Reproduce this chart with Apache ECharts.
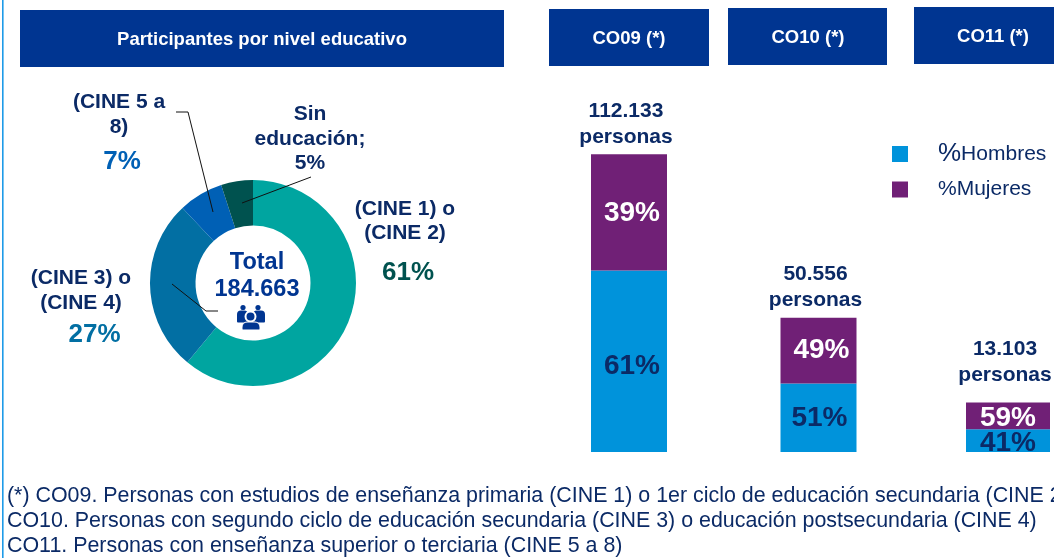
<!DOCTYPE html>
<html>
<head>
<meta charset="utf-8">
<style>html,body{margin:0;padding:0;background:#fff}#chart{width:1054px;height:558px}</style>
<script src="https://cdn.jsdelivr.net/npm/echarts@6/dist/echarts.min.js"></script>
</head>
<body>
<div id="chart"></div>
<script>
// donut: participantes por nivel educativo
var niveles = ['CINE 1-2', 'CINE 3-4', 'CINE 5-8', 'Sin educacion'];
var nivelesPct = [61, 27, 7, 5];
var nivelesColor = ['#00a5a0', '#026fa3', '#0060b5', '#00524f'];

// barras CO09 / CO10 / CO11
var grupos = ['CO09', 'CO10', 'CO11'];
var personas = ['112.133', '50.556', '13.103'];
var pctHombres = [61, 51, 41];
var pctMujeres = [39, 49, 59];
// altura dibujada en personas (CO11 va agrandada en el original)
var alturaHombres = [68400, 25800, 8550];
var alturaMujeres = [43700, 24750, 10050];

var notas = [
    '(*) CO09. Personas con estudios de enseñanza primaria (CINE 1) o 1er ciclo de educación secundaria (CINE 2)',
    'CO10. Personas con segundo ciclo de educación secundaria (CINE 3) o educación postsecundaria (CINE 4)',
    'CO11. Personas con enseñanza superior o terciaria (CINE 5 a 8)'
];

var FONT = '"Liberation Sans", Arial, sans-serif';
var AZUL = '#003591';
var NAVY = '#0b2a66';

var chart = echarts.init(document.getElementById('chart'));

var etiquetasPie = [
    '{n|(CINE 1) o}\n{n|(CINE 2)}\n{p0|61%}',
    '{n|(CINE 3) o}\n{n|(CINE 4)}\n{p1|27%}',
    '{n|(CINE 5 a}\n{n|8)}\n{p2|7%}',
    '{n|Sin}\n{n|educación;}\n{n|5%}'
];
var posPie = [[405, 248], [81, 310.5], [119, 137.5], [310, 139]];

// ajuste fino de los textos dentro de las barras
var despHombres = [[3, 5], [1, 1], [0, 3]];
var despMujeres = [[3, 1], [3, 0], [0, 2]];
var despPersonas = [[-3, 0], [-3, 0], [-3, -10]];

function cabecera(x, y, w, txt, cx) {
    return [
        { type: 'rect', shape: { x: x, y: y, width: w, height: 57 }, style: { fill: AZUL }, silent: true },
        { type: 'text', x: cx, y: y + 30, style: { text: txt, fill: '#fff', font: 'bold 18.5px ' + FONT, textAlign: 'center', textVerticalAlign: 'middle' }, silent: true }
    ];
}

function guia(puntos) {
    return { type: 'polyline', shape: { points: puntos }, style: { stroke: '#111', lineWidth: 1, fill: null }, silent: true, z: 20 };
}

// icono de personas bajo el total
function icono() {
    var c = AZUL;
    return [
        { type: 'circle', shape: { cx: 243, cy: 307.5, r: 2.6 }, style: { fill: c }, z: 20 },
        { type: 'circle', shape: { cx: 258, cy: 307.5, r: 2.6 }, style: { fill: c }, z: 20 },
        { type: 'rect', shape: { x: 237, y: 310.5, width: 11, height: 12, r: [4, 4, 1, 1] }, style: { fill: c }, z: 20 },
        { type: 'rect', shape: { x: 253, y: 310.5, width: 12, height: 12, r: [4, 4, 1, 1] }, style: { fill: c }, z: 20 },
        { type: 'circle', shape: { cx: 250.5, cy: 316.5, r: 5 }, style: { fill: c, stroke: '#fff', lineWidth: 2 }, z: 21 },
        { type: 'rect', shape: { x: 242, y: 322, width: 18, height: 8, r: [5, 5, 1, 1] }, style: { fill: c, stroke: '#fff', lineWidth: 1 }, z: 21 }
    ];
}

var graficos = [
    { type: 'rect', shape: { x: 2, y: 0, width: 1.6, height: 558 }, style: { fill: '#1e9be8' }, silent: true }
]
    .concat(cabecera(20, 10, 484, 'Participantes por nivel educativo', 262))
    .concat(cabecera(549, 9, 160, 'CO09 (*)', 629))
    .concat(cabecera(728, 8, 159, 'CO10 (*)', 808))
    .concat(cabecera(914, 7, 140, 'CO11 (*)', 993))
    .concat([
        guia([[176, 112], [188, 112], [213, 212]]),
        guia([[311, 177], [242, 203]]),
        guia([[172, 284], [206, 311], [218, 311]]),
        { type: 'text', x: 257, y: 262.5, style: { text: 'Total', fill: AZUL, font: 'bold 23.5px ' + FONT, textAlign: 'center', textVerticalAlign: 'middle' }, z: 20 },
        { type: 'text', x: 257, y: 290, style: { text: '184.663', fill: AZUL, font: 'bold 23.5px ' + FONT, textAlign: 'center', textVerticalAlign: 'middle' }, z: 20 }
    ])
    .concat(icono());

notas.forEach(function (t, i) {
    graficos.push({
        type: 'text', x: 7, y: [496, 521, 546][i],
        style: { text: t, fill: NAVY, font: '21.4px ' + FONT, textVerticalAlign: 'middle' }, silent: true
    });
});

function etiquetaBarra(pct, color) {
    return {
        show: true, position: 'inside', color: color,
        fontFamily: FONT, fontWeight: 'bold', fontSize: 28,
        formatter: function (p) { return pct[p.dataIndex] + '%'; }
    };
}

function soloDe(arr, desp, idx) {
    return arr.map(function (v, i) {
        if (idx.indexOf(i) < 0) return null;
        return { value: v, label: { offset: desp[i] } };
    });
}

var barrasGrandes = [0, 1];
var barraCO11 = [2];

var option = {
    animation: false,
    backgroundColor: '#fff',
    graphic: graficos,
    legend: {
        data: ['%Hombres', '%Mujeres'],
        orient: 'vertical',
        left: 887,
        top: 136,
        icon: 'rect',
        itemWidth: 16,
        itemHeight: 16,
        itemGap: 12,
        selectedMode: false,
        formatter: function (n) {
            return n === '%Hombres' ? '{a|%}{b|Hombres}' : '{c|%Mujeres}';
        },
        textStyle: {
            color: NAVY,
            fontFamily: FONT,
            rich: {
                a: { fontSize: 26, fontFamily: FONT, color: NAVY, padding: [0, 0, 0, 25], height: 24 },
                b: { fontSize: 21, fontFamily: FONT, color: NAVY, height: 24 },
                c: { fontSize: 21, fontFamily: FONT, color: NAVY, padding: [0, 0, 0, 25], height: 24 }
            }
        }
    },
    grid: { left: 629, top: 133.4, width: 379, height: 318.6 },
    xAxis: [
        { type: 'category', data: grupos, show: false, boundaryGap: false },
        { type: 'category', data: grupos, show: false, boundaryGap: false }
    ],
    yAxis: { type: 'value', min: 0, max: 120000, show: false },
    series: [
        {
            type: 'pie',
            name: 'Nivel educativo',
            center: [253, 283],
            radius: [57.5, 103],
            startAngle: 90,
            clockwise: true,
            avoidLabelOverlap: false,
            silent: true,
            data: niveles.map(function (n, i) {
                return { name: n, value: nivelesPct[i], itemStyle: { color: nivelesColor[i] } };
            }),
            labelLine: { show: false },
            label: {
                show: true,
                fontFamily: FONT,
                align: 'center',
                formatter: function (p) { return etiquetasPie[p.dataIndex]; },
                rich: {
                    n: { fontFamily: FONT, fontWeight: 'bold', fontSize: 21, color: NAVY, lineHeight: 24.5, align: 'center' },
                    p0: { fontFamily: FONT, fontWeight: 'bold', fontSize: 26, color: '#00524f', lineHeight: 54, align: 'center', padding: [0, 0, 0, 6] },
                    p1: { fontFamily: FONT, fontWeight: 'bold', fontSize: 26, color: '#026fa3', lineHeight: 40, align: 'center', padding: [0, 0, 0, 27] },
                    p2: { fontFamily: FONT, fontWeight: 'bold', fontSize: 26, color: '#0060b5', lineHeight: 46, align: 'center', padding: [0, 0, 0, 6] }
                }
            },
            labelLayout: function (p) {
                var q = posPie[p.dataIndex];
                return { x: q[0], y: q[1], align: 'center', verticalAlign: 'middle' };
            }
        },
        {
            name: '%Hombres', type: 'bar', stack: 'a', xAxisIndex: 0, barWidth: 76, clip: false,
            itemStyle: { color: '#0093db' },
            data: soloDe(alturaHombres, despHombres, barrasGrandes),
            label: etiquetaBarra(pctHombres, NAVY)
        },
        {
            name: '%Mujeres', type: 'bar', stack: 'a', xAxisIndex: 0, barWidth: 76, clip: false,
            itemStyle: { color: '#702076' },
            data: soloDe(alturaMujeres, despMujeres, barrasGrandes),
            label: etiquetaBarra(pctMujeres, '#fff')
        },
        {
            name: '%Hombres', type: 'bar', stack: 'b', xAxisIndex: 1, barWidth: 84, clip: false,
            itemStyle: { color: '#0093db' },
            data: soloDe(alturaHombres, despHombres, barraCO11),
            label: etiquetaBarra(pctHombres, NAVY)
        },
        {
            name: '%Mujeres', type: 'bar', stack: 'b', xAxisIndex: 1, barWidth: 84, clip: false,
            itemStyle: { color: '#702076' },
            data: soloDe(alturaMujeres, despMujeres, barraCO11),
            label: etiquetaBarra(pctMujeres, '#fff')
        },
        {
            // total de personas encima de cada barra
            name: 'Personas', type: 'scatter', xAxisIndex: 0, symbolSize: 1, clip: false,
            itemStyle: { color: 'rgba(0,0,0,0)', opacity: 1 },
            silent: true,
            z: 10,
            data: grupos.map(function (g, i) {
                return {
                    value: [i, alturaHombres[i] + alturaMujeres[i]],
                    label: { offset: despPersonas[i] }
                };
            }),
            label: {
                show: true, position: 'top', distance: 4, color: NAVY,
                fontFamily: FONT, fontWeight: 'bold', fontSize: 21, lineHeight: 26, align: 'center',
                formatter: function (p) { return personas[p.dataIndex] + '\npersonas'; }
            }
        }
    ]
};

chart.setOption(option);
</script>
</body>
</html>
